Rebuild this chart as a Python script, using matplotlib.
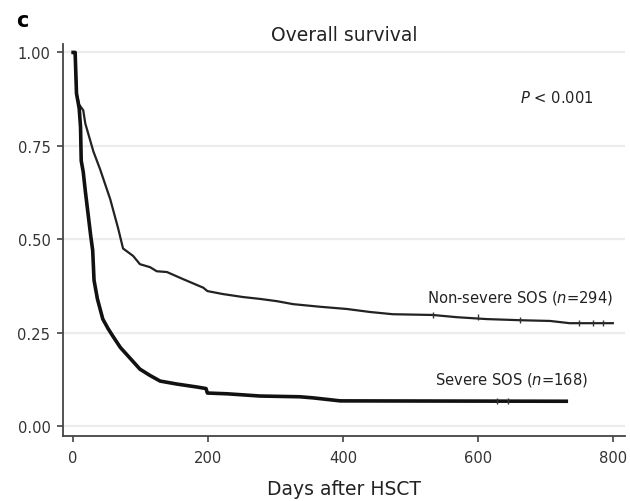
import matplotlib
matplotlib.use("Agg")
import matplotlib.pyplot as plt

plt.rcParams['font.family'] = ['DejaVu Sans']

# Kaplan-Meier estimates (days, survival)
severe_days = [0, 3, 5, 9, 11, 12, 15, 18, 22, 26, 29, 31, 36, 44, 52, 59, 70, 80, 90,
               99, 114, 129, 154, 184, 197, 199, 228, 277, 336, 356, 396, 731]
severe_surv = [1.0, 1.0, 0.89, 0.85, 0.80, 0.71, 0.68, 0.63, 0.57, 0.51, 0.47, 0.39,
               0.34, 0.286, 0.26, 0.24, 0.21, 0.19, 0.17, 0.152, 0.135, 0.12, 0.112,
               0.104, 0.10, 0.088, 0.086, 0.08, 0.078, 0.075, 0.067, 0.066]
severe_censor = [628, 644]

nonsev_days = [0, 3, 5, 9, 15, 18, 30, 40, 55, 67, 74, 89, 99, 114, 124, 139, 163, 193,
               199, 222, 252, 277, 302, 326, 366, 406, 440, 474, 533, 569, 613, 662,
               707, 736, 800]
nonsev_surv = [1.0, 1.0, 0.89, 0.86, 0.845, 0.81, 0.735, 0.687, 0.607, 0.527, 0.475,
               0.455, 0.433, 0.425, 0.414, 0.412, 0.393, 0.37, 0.361, 0.353, 0.345,
               0.34, 0.334, 0.326, 0.319, 0.313, 0.305, 0.299, 0.297, 0.291, 0.286,
               0.283, 0.281, 0.275, 0.275]
nonsev_censor = [533, 600, 662, 750, 770, 785]

x_ticks = [0, 200, 400, 600, 800]
y_ticks = [0.0, 0.25, 0.5, 0.75, 1.0]
y_ticklabels = ['0.00', '0.25', '0.50', '0.75', '1.00']


def surv_at(days, surv, t):
    val = surv[0]
    for d, s in zip(days, surv):
        if d <= t:
            val = s
    return val


fig = plt.figure(figsize=(6.3, 5.02), dpi=100)
ax = fig.add_axes([0.1, 0.1295, 0.892, 0.7805])

for y in y_ticks:
    ax.axhline(y, color='#ececec', lw=1.6, zorder=0)

ax.plot(nonsev_days, nonsev_surv, color='#222222', lw=1.6)
ax.plot(severe_days, severe_surv, color='#111111', lw=2.6)
ax.plot(nonsev_censor, [surv_at(nonsev_days, nonsev_surv, t) for t in nonsev_censor],
        '|', color='#333333', ms=4, mew=1)
ax.plot(severe_censor, [surv_at(severe_days, severe_surv, t) for t in severe_censor],
        '|', color='#333333', ms=5, mew=1)

ax.set_xlim(-15, 818)
ax.set_ylim(-0.027, 1.022)
ax.set_xticks(x_ticks)
ax.set_yticks(y_ticks)
ax.set_yticklabels(y_ticklabels)
for s in ['top', 'right']:
    ax.spines[s].set_visible(False)
for s in ['left', 'bottom']:
    ax.spines[s].set_color('#444444')
    ax.spines[s].set_linewidth(1.3)
ax.tick_params(axis='both', labelsize=10.6, colors='#333333', length=4, width=1.1)
ax.tick_params(axis='y', pad=5)
ax.tick_params(axis='x', pad=6)

ax.set_xlabel('Days after HSCT', fontsize=13.5, color='#222222', labelpad=10)
ax.set_title('Overall survival', fontsize=13.5, color='#222222', pad=3)

ax.text(772, 0.88, r'$\mathit{P}$ < 0.001', ha='right', va='center', fontsize=10.6,
        color='#222222')
ax.text(800, 0.345, r'Non-severe SOS ($\mathit{n}$=294)', ha='right', va='center',
        fontsize=10.6, color='#222222')
ax.text(764, 0.126, r'Severe SOS ($\mathit{n}$=168)', ha='right', va='center',
        fontsize=10.6, color='#222222')
fig.text(0.026, 0.958, 'c', fontsize=15, fontweight='bold', va='center')

fig.savefig('out.png', dpi=100)
